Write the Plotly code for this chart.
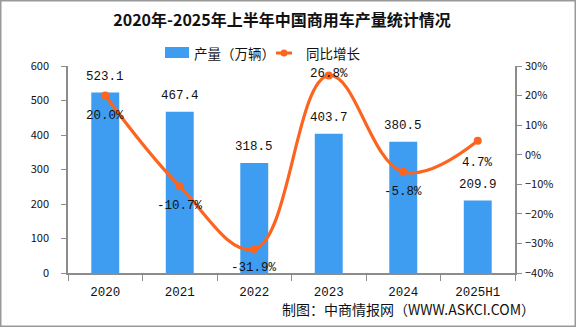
import plotly.graph_objects as go

categories = ["2020", "2021", "2022", "2023", "2024", "2025H1"]
production = [523.1, 467.4, 318.5, 403.7, 380.5, 209.9]
growth = [20.0, -10.7, -31.9, 26.8, -5.8, 4.7]
growth_labels = ["20.0%", "-10.7%", "-31.9%", "26.8%", "-5.8%", "4.7%"]
label_shift = [-20, -20, -19, 1, -20, -22]

FONT = "Noto Sans CJK SC"
MONO = "Liberation Mono"
BAR = "#3F9DF1"
LINE = "#FC6420"
AX = "#8c8c8c"
TXT = "#111"


def px(x):
    return (x - 68) / 447


def py(y):
    return (273 - y) / 207


fig = go.Figure()
fig.add_trace(go.Bar(
    x=categories, y=production, name="产量（万辆）",
    marker=dict(color=BAR, line=dict(width=0)), width=0.375,
    showlegend=False,
))
fig.add_trace(go.Scatter(
    x=categories, y=growth, name="同比增长", yaxis="y2",
    mode="lines+markers", line=dict(color=LINE, width=3.2, shape="spline", smoothing=1.15),
    marker=dict(color=LINE, size=8), showlegend=False, cliponaxis=False,
))
for i, v in enumerate(production):
    fig.add_annotation(x=i, y=v, xref="x", yref="y", text=f"{v:.1f}", showarrow=False,
                       yanchor="bottom", yshift=7, font=dict(size=12.5, color=TXT, family=MONO))
for i, (g, t, s) in enumerate(zip(growth, growth_labels, label_shift)):
    fig.add_annotation(x=i, y=g, xref="x", yref="y2", text=t, showarrow=False, yshift=s,
                       font=dict(size=12.5, color=TXT, family=MONO))

# custom legend
fig.add_shape(type="rect", xref="paper", yref="paper", x0=px(165), x1=px(189),
              y0=py(58), y1=py(47), fillcolor=BAR, line=dict(width=0))
fig.add_annotation(x=px(192), xref="paper", y=py(53), yref="paper", xanchor="left",
                   yanchor="middle", showarrow=False, text="产量（万辆）",
                   font=dict(size=13.5, color=TXT, family=FONT))
fig.add_shape(type="line", xref="paper", yref="paper", x0=px(276), x1=px(292),
              y0=py(53), y1=py(53), line=dict(color=LINE, width=3))
fig.add_shape(type="circle", xref="paper", yref="paper", x0=px(280.5), x1=px(287.5),
              y0=py(56.5), y1=py(49.5), fillcolor=LINE, line=dict(width=0))
fig.add_annotation(x=px(304), xref="paper", y=py(53), yref="paper", xanchor="left",
                   yanchor="middle", showarrow=False, text="同比增长",
                   font=dict(size=13.5, color=TXT, family=FONT))

fig.add_annotation(x=px(408), xref="paper", y=py(309), yref="paper",
                   xanchor="center", yanchor="middle", showarrow=False,
                   text="制图：中商情报网（WWW.ASKCI.COM）",
                   font=dict(size=14, color=TXT, family=FONT))
# border
fig.add_shape(type="rect", xref="paper", yref="paper",
              x0=px(0.75), x1=px(575.25), y0=py(326.25), y1=py(0.75),
              line=dict(color="#999", width=1.5), fillcolor="rgba(0,0,0,0)")

fig.update_layout(
    width=576, height=327,
    margin=dict(l=68, r=61, t=66, b=54, autoexpand=False),
    paper_bgcolor="white", plot_bgcolor="white",
    title=dict(text="<b>2020年-2025年上半年中国商用车产量统计情况</b>", x=px(282), xref="paper",
               xanchor="center", y=1 - 20 / 327, yanchor="middle",
               font=dict(size=16, color=TXT, family=FONT)),
    showlegend=False,
    xaxis=dict(type="category", range=[-0.5, 5.5], showline=True, linecolor=AX, linewidth=1.5,
               ticks="outside", tickcolor=AX, ticklen=6, tickson="boundaries",
               ticklabelstandoff=6,
               tickfont=dict(size=12.5, color=TXT, family=MONO), showgrid=False),
    yaxis=dict(range=[0, 600], dtick=100, showline=True, linecolor=AX, linewidth=1.5,
               ticks="outside", tickcolor=AX, ticklen=5, showgrid=False, zeroline=False,
               ticklabelstandoff=10,
               tickfont=dict(size=11, color=TXT, family=FONT)),
    yaxis2=dict(range=[-40, 30], dtick=10, overlaying="y", side="right", showline=True,
                linecolor=AX, linewidth=1.5, ticks="outside", tickcolor=AX, ticklen=5,
                ticksuffix="%", showgrid=False, zeroline=False, ticklabelstandoff=1,
                tickfont=dict(size=11, color=TXT, family=FONT)),
)
fig.write_html("out.html")
